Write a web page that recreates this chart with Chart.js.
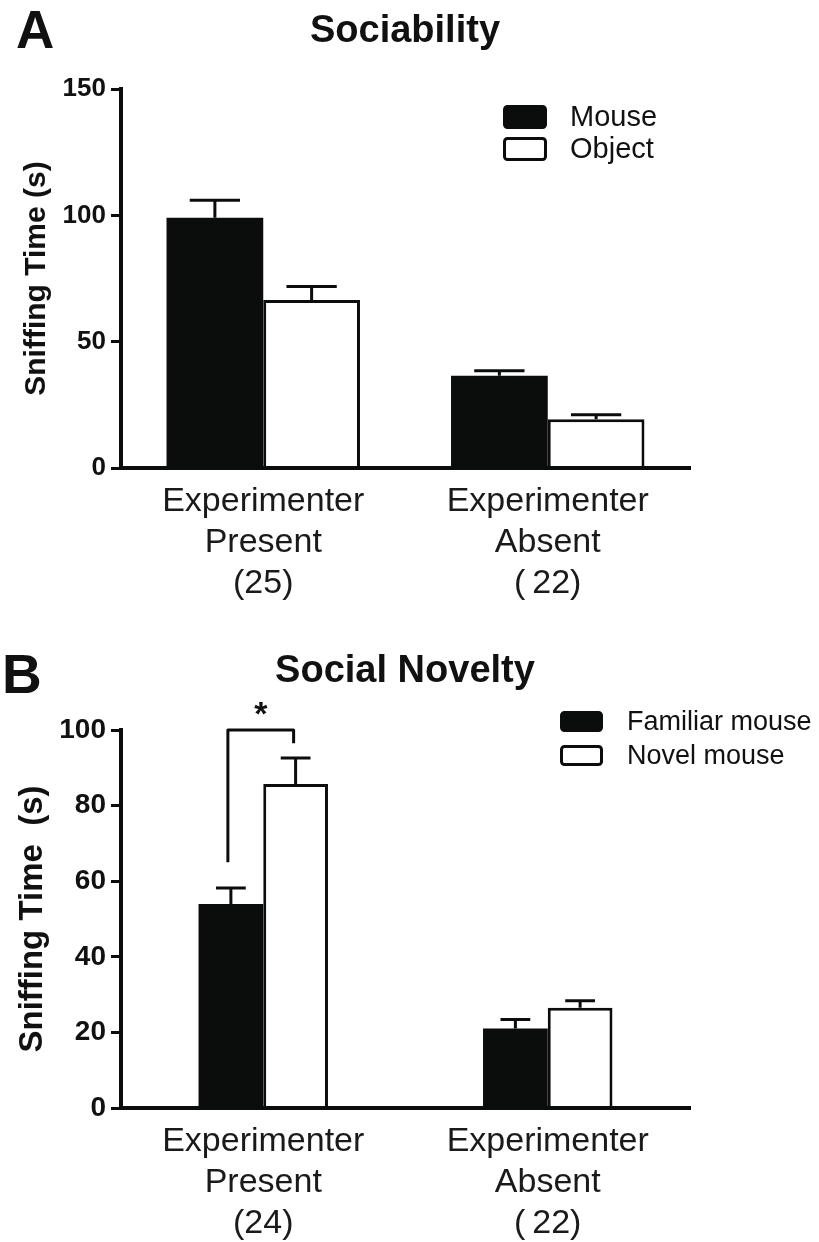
<!DOCTYPE html>
<html>
<head>
<meta charset="utf-8">
<script src="https://cdn.jsdelivr.net/npm/chart.js@4/dist/chart.umd.min.js"></script>
<style>
  body { margin: 0; background: #fff; }
  canvas { display: block; }
</style>
</head>
<body>
<canvas id="chartA" width="819" height="620"></canvas>
<canvas id="chartB" width="819" height="622"></canvas>
<script>
// panel A - sociability
const groupsA = [["Experimenter", "Present", "(25)"], ["Experimenter", "Absent", "(\u200922)"]];
const mouseA = [99, 36.5];
const mouseSemA = [7, 2];
const objectA = [66.5, 19.3];
const objectSemA = [5.3, 1.8];
const ticksA = [0, 50, 100, 150];

// panel B - social novelty
const groupsB = [["Experimenter", "Present", "(24)"], ["Experimenter", "Absent", "(\u200922)"]];
const familiarB = [54, 21];
const familiarSemB = [4.2, 2.4];
const novelB = [85.7, 26.5];
const novelSemB = [6.9, 1.9];
const ticksB = [0, 20, 40, 60, 80, 100];
// significance bracket: familiar vs novel in "Present" group
const bracketB = { group: 0, leftFrom: 65, rightFrom: 96.5, top: 100, label: "*" };

const FONT = '"Liberation Sans", Arial, Helvetica, sans-serif';
const INK = "#0b0d0c";

// error bars (upward only)
const errorBars = {
  id: "errorBars",
  afterDatasetsDraw(chart, args, opts) {
    const ctx = chart.ctx;
    const y = chart.scales.y;
    ctx.save();
    ctx.strokeStyle = INK;
    ctx.lineWidth = opts.lineWidth || 3;
    chart.data.datasets.forEach((ds, i) => {
      const meta = chart.getDatasetMeta(i);
      meta.data.forEach((bar, j) => {
        const top = y.getPixelForValue(ds.data[j] + ds.sem[j]);
        const half = bar.width * opts.cap / 2;
        ctx.beginPath();
        ctx.moveTo(bar.x, bar.y);
        ctx.lineTo(bar.x, top);
        ctx.moveTo(bar.x - half, top);
        ctx.lineTo(bar.x + half, top);
        ctx.stroke();
      });
    });
    ctx.restore();
  }
};

// title, legend inside the plot, and the panel letter
const panelDecor = {
  id: "panelDecor",
  afterDraw(chart, args, opts) {
    const ctx = chart.ctx;
    ctx.save();
    ctx.fillStyle = "#111";
    ctx.font = "bold " + opts.letterSize + "px " + FONT;
    ctx.textBaseline = "alphabetic";
    ctx.textAlign = "left";
    ctx.fillText(opts.letter, opts.letterX, opts.letterY);

    ctx.font = "bold 38px " + FONT;
    ctx.textAlign = "center";
    ctx.textBaseline = "middle";
    ctx.fillText(opts.title, opts.titleX, opts.titleY);
    ctx.textAlign = "left";

    const lg = opts.legend;
    chart.data.datasets.forEach((ds, i) => {
      const top = lg.y + i * lg.step;
      ctx.beginPath();
      ctx.roundRect(lg.x + 1.5, top + 1.5, lg.w - 3, lg.h - 3, 3);
      ctx.fillStyle = ds.backgroundColor;
      ctx.fill();
      ctx.lineWidth = 3;
      ctx.strokeStyle = INK;
      ctx.stroke();
      ctx.fillStyle = "#111";
      ctx.font = lg.size + "px " + FONT;
      ctx.textBaseline = "middle";
      ctx.fillText(ds.label, lg.textX, top + lg.h / 2 + 1);
    });
    ctx.restore();
  }
};

const sigBracket = {
  id: "sigBracket",
  afterDraw(chart, args, opts) {
    if (!opts.bracket) return;
    const b = opts.bracket;
    const y = chart.scales.y;
    const left = chart.getDatasetMeta(0).data[b.group];
    const right = chart.getDatasetMeta(1).data[b.group];
    const xl = left.x - 3, xr = right.x - 2;
    const yt = y.getPixelForValue(b.top);
    const ctx = chart.ctx;
    ctx.save();
    ctx.strokeStyle = INK;
    ctx.lineWidth = 3;
    ctx.lineJoin = "round";
    ctx.beginPath();
    ctx.moveTo(xl, y.getPixelForValue(b.leftFrom));
    ctx.lineTo(xl, yt);
    ctx.lineTo(xr, yt);
    ctx.lineTo(xr, y.getPixelForValue(b.rightFrom));
    ctx.stroke();
    ctx.fillStyle = "#111";
    ctx.font = "bold 34px " + FONT;
    ctx.textAlign = "center";
    ctx.textBaseline = "alphabetic";
    ctx.fillText(b.label, (xl + xr) / 2, yt - 5);
    ctx.restore();
  }
};

function makeChart(canvasId, cfg) {
  const ctx = document.getElementById(canvasId).getContext("2d");
  return new Chart(ctx, {
    type: "bar",
    data: {
      labels: cfg.labels,
      datasets: [
        {
          label: cfg.names[0],
          data: cfg.series[0],
          sem: cfg.sems[0],
          backgroundColor: INK,
          borderColor: INK,
          borderWidth: 0,
        },
        {
          label: cfg.names[1],
          data: cfg.series[1],
          sem: cfg.sems[1],
          backgroundColor: "#ffffff",
          borderColor: INK,
          borderWidth: 3,
        },
      ],
    },
    options: {
      responsive: false,
      animation: false,
      devicePixelRatio: 1,
      categoryPercentage: cfg.catPct,
      barPercentage: 1.0,
      layout: { padding: { left: 0, right: 129, top: cfg.plotTop, bottom: 0 } },
      plugins: {
        legend: { display: false },
        title: { display: false },
        tooltip: { enabled: false },
        errorBars: { cap: cfg.cap, lineWidth: 3 },
        panelDecor: cfg.decor,
        sigBracket: { bracket: cfg.bracket },
      },
      scales: {
        x: {
          grid: { drawOnChartArea: false, drawTicks: false },
          border: { display: true, color: INK, width: 4, z: 1 },
          ticks: {
            color: "#1a1a1a",
            padding: 13,
            font: { family: FONT, size: 34, lineHeight: 1.21 },
          },
          afterFit(scale) { scale.height = cfg.xHeight; },
        },
        y: {
          min: 0,
          max: cfg.ticks[cfg.ticks.length - 1],
          afterBuildTicks(scale) { scale.ticks = cfg.ticks.map(v => ({ value: v })); },
          grid: { drawOnChartArea: false, drawTicks: true, tickLength: 10, lineWidth: 3, color: INK },
          border: { display: true, color: INK, width: 4 },
          ticks: {
            color: "#111",
            padding: 5,
            font: { family: FONT, size: cfg.tickSize, weight: "bold" },
          },
          title: {
            display: true,
            text: cfg.yTitle,
            color: "#111",
            font: { family: FONT, size: cfg.yTitleSize, weight: "bold", lineHeight: 1.2 },
            padding: { top: cfg.yTitleX, bottom: 0 },
          },
          afterFit(scale) { scale.width = 121; },
        },
      },
    },
    plugins: [errorBars, panelDecor, sigBracket],
  });
}

makeChart("chartA", {
  labels: groupsA,
  names: ["Mouse", "Object"],
  series: [mouseA, objectA],
  sems: [mouseSemA, objectSemA],
  ticks: ticksA,
  catPct: 0.68,
  cap: 0.52,
  plotTop: 89,
  xHeight: 152,
  tickSize: 26,
  yTitle: "Sniffing Time (s)",
  yTitleSize: 30,
  yTitleX: 19,
  bracket: null,
  decor: {
    title: "Sociability", titleX: 405, titleY: 32,
    letter: "A", letterX: 16, letterY: 48, letterSize: 53,
    legend: { x: 503, y: 105, w: 44, h: 24, step: 32, textX: 570, size: 29 },
  },
});

makeChart("chartB", {
  labels: groupsB,
  names: ["Familiar mouse", "Novel mouse"],
  series: [familiarB, novelB],
  sems: [familiarSemB, novelSemB],
  ticks: ticksB,
  catPct: 0.455,
  cap: 0.46,
  plotTop: 110,
  xHeight: 134,
  tickSize: 28,
  yTitle: "Sniffing Time  (s)",
  yTitleSize: 33,
  yTitleX: 13,
  bracket: bracketB,
  decor: {
    title: "Social Novelty", titleX: 405, titleY: 52,
    letter: "B", letterX: 2, letterY: 73, letterSize: 55,
    legend: { x: 560, y: 91, w: 43, h: 21, step: 34, textX: 627, size: 27 },
  },
});
</script>
</body>
</html>
